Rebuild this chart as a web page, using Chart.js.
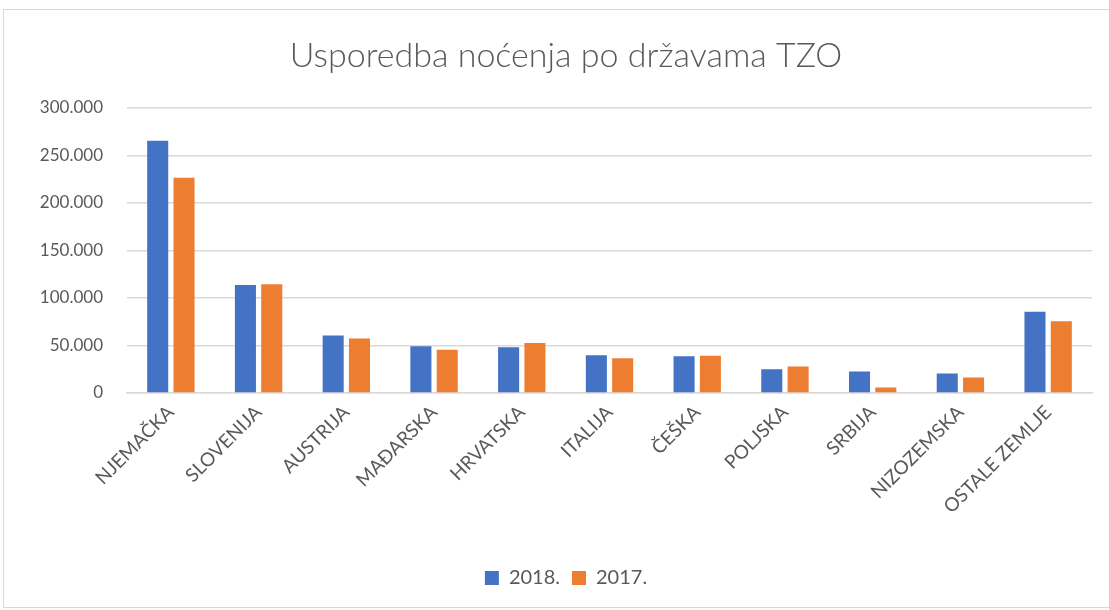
<!DOCTYPE html>
<html><head><meta charset="utf-8">
<script src="https://cdn.jsdelivr.net/npm/chart.js@4.4.1/dist/chart.umd.min.js"></script>
<style>html,body{margin:0;padding:0;background:#fff}#wrap{width:1109px;height:610px;position:relative}</style>
</head><body><div id="wrap"><canvas id="c" width="1109" height="610"></canvas></div>
<script>
const categories = ["NJEMAČKA","SLOVENIJA","AUSTRIJA","MAĐARSKA","HRVATSKA","ITALIJA","ČEŠKA","POLJSKA","SRBIJA","NIZOZEMSKA","OSTALE ZEMLJE"];
const values2018 = [265300,113500,60600,49300,48000,39600,38600,24900,22500,20400,85500];
const values2017 = [226400,114300,57200,45600,52600,36500,39300,28000,5700,16200,75400];
const seriesNames = ["2018.","2017."];
const yTicks = [0,50000,100000,150000,200000,250000,300000];
const fmt = v => v === 0 ? "0" : v.toLocaleString("de-DE");

const borderPlugin = {id:'frame', beforeDraw(chart){const c=chart.ctx;c.save();c.fillStyle='#fff';c.fillRect(0,0,chart.width,chart.height);c.strokeStyle='#d9d9d9';c.lineWidth=1;c.strokeRect(3.5,9.5,1110,598);c.restore();}};

new Chart(document.getElementById('c'), {
  type:'bar',
  data:{labels:categories,datasets:[
    {label:seriesNames[0],data:values2018,backgroundColor:'#4472c4',barPercentage:0.8,categoryPercentage:0.6},
    {label:seriesNames[1],data:values2017,backgroundColor:'#ed7d31',barPercentage:0.8,categoryPercentage:0.6}
  ]},
  options:{
    responsive:false,animation:false,
    layout:{padding:{left:40,right:17,top:36,bottom:12}},
    plugins:{
      title:{display:true,text:'Usporedba noćenja po državama TZO',color:'#595959',font:{family:'Lato',size:34,weight:'300'},padding:{top:0,bottom:31}},
      legend:{position:'bottom',labels:{color:'#595959',font:{family:'Lato',size:20},boxWidth:14,boxHeight:14,padding:12}},
      tooltip:{enabled:false}
    },
    scales:{
      x:{grid:{display:false},border:{color:'#d9d9d9',width:1.5},
        ticks:{color:'#595959',font:{family:'Lato',size:19},maxRotation:45,minRotation:45,autoSkip:false,padding:0},
        afterFit(s){s.height=163;}},
      y:{min:0,max:300000,grid:{color:'#d9d9d9',lineWidth:1.5,drawTicks:false},border:{display:false},
        afterBuildTicks(s){s.ticks=yTicks.map(v=>({value:v}));},
        ticks:{color:'#595959',font:{family:'Lato',size:17},padding:24,callback:v=>fmt(v)},
        afterFit(s){s.width=87;}}
    }
  },
  plugins:[borderPlugin]
});
</script></body></html>
